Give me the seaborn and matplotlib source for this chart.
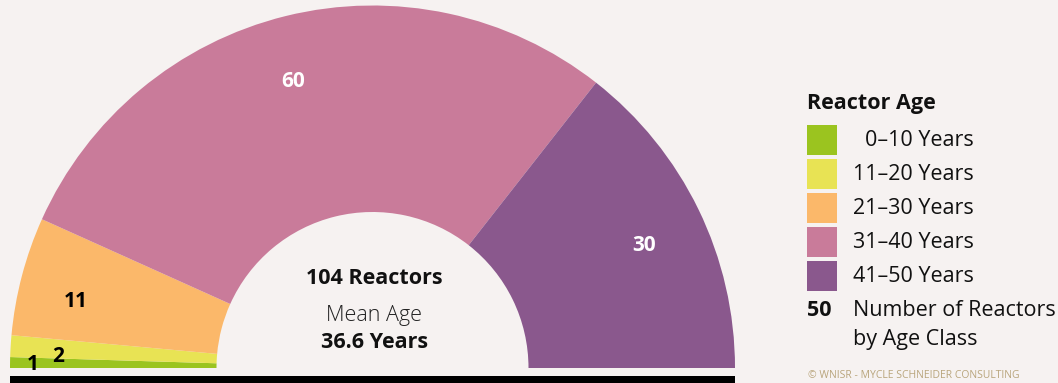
import numpy as np
import matplotlib
matplotlib.use("Agg")
import matplotlib.pyplot as plt
import seaborn as sns
from matplotlib.patches import Rectangle
from matplotlib import font_manager as fm

# ---- data ----
age_classes = ["0\u201310 Years", "11\u201320 Years", "21\u201330 Years", "31\u201340 Years", "41\u201350 Years"]
reactor_counts = [1, 2, 11, 60, 30]
class_colors = ["#9bc41f", "#e8e354", "#fbb86a", "#c97b9a", "#8a588d"]
label_colors = ["black", "black", "black", "white", "white"]
total_reactors = 104
mean_age = 36.6

BG = "#f6f2f1"
sns.set_theme(style="white")

# pick a family that has a real bold face
fam = "DejaVu Sans"
for cand in ["Open Sans", "Lato", "Inter", "Noto Sans", "Roboto"]:
    ws = [f.weight for f in fm.fontManager.ttflist if f.name == cand]
    ws = [w if isinstance(w, int) else 700 if w == "bold" else 400 for w in ws]
    if any(w >= 600 for w in ws):
        fam = cand
        break
plt.rcParams["font.family"] = [fam, "DejaVu Sans"]

fig = plt.figure(figsize=(10.58, 3.83), dpi=100, facecolor=BG)
ax = fig.add_axes([0, 0, 1, 1])
ax.set_facecolor(BG)

H = 383
cx, cy_pix = 372.5, 368
cy = H - cy_pix
R_out, R_in = 362.5, 156

vals = reactor_counts + [sum(reactor_counts)]
cols = class_colors + ["none"]
wedges, _ = ax.pie(vals, radius=R_out, center=(cx, cy), startangle=180, counterclock=False,
                   colors=cols, wedgeprops=dict(width=R_out - R_in, linewidth=0))
ax.set_xlim(0, 1058)
ax.set_ylim(0, H)
ax.set_aspect("equal")
ax.axis("off")

# value labels
label_r = [340, 315, 305, 302, 300]
label_dang = [0, 0, -1.2, -1.4, 0.6]
label_dy = [-2, -8, -5, -5, -6]
cum = np.cumsum([0] + reactor_counts)
tot = sum(reactor_counts)
for i, v in enumerate(reactor_counts):
    mid = (cum[i] + cum[i + 1]) / 2
    ang = np.deg2rad(180 - mid / tot * 180 - label_dang[i])
    x = cx + label_r[i] * np.cos(ang)
    y = cy + label_r[i] * np.sin(ang) + label_dy[i]
    ax.text(x, y, str(v), ha="center", va="center", fontsize=15, fontweight="bold",
            color=label_colors[i])

# base bar
ax.add_patch(Rectangle((cx - R_out, -5), 2 * R_out, 12, color="black", lw=0, clip_on=False))

# center text
ax.text(cx + 2, H - 278, f"{total_reactors} Reactors", ha="center", va="center",
        fontsize=15.5, fontweight="bold", color="#111111")
ax.text(cx + 2, H - 315, "Mean Age", ha="center", va="center", fontsize=15.5,
        fontweight="light", color="#222222")
ax.text(cx + 2, H - 342, f"{mean_age} Years", ha="center", va="center",
        fontsize=15.5, fontweight="bold", color="#111111")

# legend
lx = 807
fs = 15.5
ax.text(lx, H - 103, "Reactor Age", ha="left", va="center", fontsize=fs,
        fontweight="bold", color="#111111")
for i, (lab, c) in enumerate(zip(age_classes, class_colors)):
    top = 125 + i * 34
    ax.add_patch(Rectangle((lx, H - top - 30), 30, 30, color=c, lw=0))
    tx = 853 if i > 0 else 865
    ax.text(tx, H - top - 16, lab, ha="left", va="center", fontsize=fs, color="#111111")
ax.text(lx, H - 311, "50", ha="left", va="center", fontsize=fs, fontweight="bold", color="#111111")
ax.text(853, H - 311, "Number of Reactors", ha="left", va="center", fontsize=fs, color="#111111")
ax.text(853, H - 340, "by Age Class", ha="left", va="center", fontsize=fs, color="#111111")

# copyright
ax.text(808, H - 381, "\u00a9 WNISR - MYCLE SCHNEIDER CONSULTING", ha="left", va="bottom",
        fontsize=7.5, color="#b9a57c")

fig.savefig("out.png", dpi=100, facecolor=BG)
